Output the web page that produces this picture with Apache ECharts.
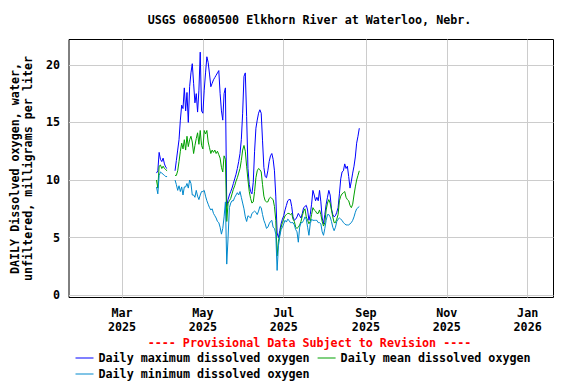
<!DOCTYPE html>
<html><head><meta charset="utf-8">
<script src="https://cdn.jsdelivr.net/npm/echarts@6/dist/echarts.min.js"></script>
<style>html,body{margin:0;padding:0;background:#fff}#c{width:576px;height:384px}</style>
</head><body><div id="c"></div>
<script>
// ---------- text ----------
const titleText = 'USGS 06800500 Elkhorn River at Waterloo, Nebr.';
const yAxisTitle = 'DAILY Dissolved oxygen, water,\nunfiltered, milligrams per liter';
const provisionalText = '---- Provisional Data Subject to Revision ----';
const seriesNames = ['Daily maximum dissolved oxygen', 'Daily mean dissolved oxygen', 'Daily minimum dissolved oxygen'];

// ---------- axes ----------
const xTickDates = ['2025-03-01', '2025-05-01', '2025-07-01', '2025-09-01', '2025-11-01', '2026-01-01'];
const xTickLabels = ['Mar\n2025', 'May\n2025', 'Jul\n2025', 'Sep\n2025', 'Nov\n2025', 'Jan\n2026'];
const xRange = ['2025-01-20T00:00:00Z', '2026-01-20T12:00:00Z'];
const yTicks = [0, 5, 10, 15, 20];
const yRange = [-0.2, 22.2];

// ---------- data (daily values, consecutive days from segment start) ----------
const seg1Start = '2025-03-27';
const seg2Start = '2025-04-10';
const gapDate = '2025-04-05';

const maxSeg1 = [10.6, 10.8, 12.4, 11.8, 11.6, 11.9, 11.4, 11.1, 11.0];
const meanSeg1 = [10.0, 9.3, 11.2, 11.3, 11.0, 11.2, 11.0, 10.9, 10.8];
const minSeg1 = [9.4, 8.8, 10.4, 10.7, 10.6, 10.5, 10.4, 10.3, 10.3];

const maxSeg2 = [
  10.8, 11.7, 12.6, 13.5, 15.2, 16.5, 16.2, 18.0, 16.0, 17.6,
  15.0, 18.1, 19.3, 20.1, 18.4, 16.7, 17.5, 15.9, 17.8, 21.1,
  16.0, 15.8, 17.8, 19.3, 20.7, 20.2, 19.2, 18.1, 18.4, 18.7,
  18.9, 19.1, 19.3, 19.5, 17.5, 16.0, 15.2, 17.5, 18.0, 7.7,
  8.3, 8.7, 9.0, 9.3, 9.7, 10.1, 10.5, 11.0, 11.6, 12.3,
  13.5, 15.8, 19.0, 19.3, 15.5, 11.0, 9.6, 9.0, 8.8, 9.8,
  12.5, 14.5, 15.2, 15.8, 16.1, 15.8, 13.4, 11.1, 10.3, 10.2,
  10.8, 11.6, 12.1, 12.3, 11.8, 10.8, 8.6, 5.4, 5.0, 5.6,
  6.2, 6.6, 6.9, 7.4, 7.8, 8.2, 8.3, 8.3, 7.7, 6.8,
  6.5, 6.6, 6.8, 7.1, 6.9, 6.7, 7.1, 7.6, 7.7, 7.8,
  7.4, 6.5, 7.0, 7.9, 9.1, 8.7, 8.2, 8.5, 8.2, 9.1,
  8.1, 6.7, 6.2, 7.0, 7.9, 8.5, 9.1, 8.7, 7.5, 7.0,
  6.8, 6.9, 7.2, 7.6, 8.8, 10.1, 10.7, 10.8, 11.4, 11.0,
  11.2, 10.3, 9.3, 9.9, 10.6, 11.2, 12.0, 13.2, 13.8, 14.5
];
const meanSeg2 = [
  10.4, 10.4, 10.8, 11.6, 12.5, 13.2, 12.7, 13.5, 12.6, 13.8,
  12.9, 13.5, 13.8, 13.3, 12.3, 13.0, 13.6, 14.1, 13.1, 14.3,
  13.0, 12.7, 14.3, 14.0, 14.3, 13.3, 12.8, 12.3, 12.6, 12.4,
  12.6, 12.3, 12.5, 12.2, 11.9, 11.1, 10.7, 12.1, 11.8, 6.4,
  8.0, 8.2, 8.4, 8.8, 9.2, 9.5, 9.9, 10.2, 10.6, 11.0,
  11.7, 12.6, 13.0, 12.5, 11.2, 10.0, 9.0, 8.4, 8.0, 8.1,
  9.0, 10.2, 10.8, 11.0, 10.9, 10.7, 9.6, 8.6, 8.2, 8.1,
  8.1, 8.4, 8.5, 8.4, 8.3, 7.7, 6.5, 3.4, 4.7, 5.3,
  5.9, 6.3, 6.6, 6.9, 7.0, 7.1, 7.1, 7.0, 7.1, 6.6,
  6.4, 5.9, 5.8, 5.9, 6.1, 6.4, 6.9, 7.3, 7.5, 6.8,
  6.5, 6.2, 6.4, 7.0, 7.6, 7.4, 7.3, 7.1, 7.1, 7.4,
  7.0, 6.4, 6.0, 6.3, 7.4, 8.0, 8.3, 8.0, 7.4, 6.8,
  6.3, 6.3, 6.6, 7.0, 8.2, 8.6, 8.8, 8.9, 9.0, 8.5,
  8.3, 8.2, 7.8, 7.6, 7.9, 8.7, 9.4, 10.0, 10.4, 10.8
];
const minSeg2 = [
  10.0, 9.6, 9.1, 9.5, 9.0, 9.4, 8.7, 9.4, 9.4, 9.7,
  9.3, 10.0, 9.7, 8.7, 8.7, 8.5, 9.1, 8.6, 8.3, 8.7,
  9.0, 9.0, 9.1, 8.6, 8.2, 7.9, 7.6, 7.4, 7.5, 7.1,
  6.9, 6.7, 6.4, 6.3, 5.9, 5.3, 5.8, 6.8, 8.1, 2.7,
  5.0, 7.6, 8.0, 8.2, 8.2, 8.5, 8.7, 8.9, 8.7, 9.0,
  8.5, 8.0, 7.5, 6.8, 6.4, 6.9, 6.8, 6.7, 7.1, 7.2,
  7.3, 7.2, 7.0, 7.3, 7.7, 7.6, 7.0, 6.5, 6.2, 5.8,
  5.9, 6.2, 6.4, 6.5, 5.9, 5.8, 5.3, 2.15, 4.3, 5.1,
  5.7, 5.9, 6.2, 6.5, 6.35, 6.6, 6.5, 6.3, 6.3, 6.3,
  6.1, 5.7, 5.5, 4.6, 5.9, 6.3, 6.3, 6.5, 6.8, 6.6,
  5.9, 5.2, 6.2, 6.6, 6.5, 6.5, 6.5, 6.5, 6.3, 6.3,
  6.2, 5.5, 5.2, 5.8, 6.5, 7.0, 7.0, 6.8, 6.4, 5.9,
  5.6, 5.9, 6.4, 6.6, 6.7, 6.6, 6.5, 6.3, 6.2, 6.1,
  6.1, 6.1, 6.2, 6.3, 6.5, 6.8, 7.2, 7.5, 7.6, 7.7
];

// ---------- styles ----------
const colors = ['#0000ff', '#00a000', '#0088cc'];
const FONT = 'DejaVu Sans Mono';
const FS = 11.7;

const DAY = 86400000;
const ts = s => Date.parse(s.length > 10 ? s : s + 'T00:00:00Z');
function build(s1, s2) {
  const out = [];
  const a = ts(seg1Start), b = ts(seg2Start);
  s1.forEach((v, i) => out.push([a + i * DAY, v]));
  out.push([ts(gapDate), '-']);
  s2.forEach((v, i) => out.push([b + i * DAY, v]));
  return out;
}
const seriesData = [build(maxSeg1, maxSeg2), build(meanSeg1, meanSeg2), build(minSeg1, minSeg2)];
const xTickTs = xTickDates.map(ts);

const chart = echarts.init(document.getElementById('c'), null, { renderer: 'svg' });
const txt = { fontFamily: FONT, fontWeight: 'bold', fontSize: FS, color: '#000' };
chart.setOption({
  animation: false,
  backgroundColor: '#fff',
  title: [
    { text: titleText, left: 309.5, top: 13, textAlign: 'center', padding: 0, textStyle: Object.assign({}, txt, { lineHeight: 14 }) },
    { text: provisionalText, left: 309.5, top: 336, textAlign: 'center', padding: 0, textStyle: Object.assign({}, txt, { color: '#ff0000', lineHeight: 14 }) }
  ],
  legend: [
    { data: [seriesNames[0], seriesNames[1]], left: 75.5, top: 352, padding: 0, itemGap: 8, itemWidth: 18, itemHeight: 1, icon: 'rect', textStyle: Object.assign({}, txt) },
    { data: [seriesNames[2]], left: 75.5, top: 368, padding: 0, itemWidth: 18, itemHeight: 1, icon: 'rect', textStyle: Object.assign({}, txt) }
  ],
  grid: { left: 64.5, top: 39.5, width: 489, height: 258, show: true, borderColor: '#000', borderWidth: 1, backgroundColor: '#fff', containLabel: false },
  xAxis: {
    type: 'value', min: ts(xRange[0]), max: ts(xRange[1]),
    axisLine: { show: false },
    axisTick: { show: false, customValues: xTickTs },
    axisLabel: { customValues: xTickTs, margin: 8, fontFamily: FONT, fontWeight: 'bold', fontSize: FS, color: '#000', lineHeight: 14,
      formatter: v => { const i = xTickTs.indexOf(v); return i >= 0 ? xTickLabels[i] : ''; } },
    splitLine: { show: true, lineStyle: { color: '#cccccc', width: 1 } }
  },
  yAxis: {
    type: 'value', min: yRange[0], max: yRange[1],
    name: yAxisTitle, nameLocation: 'middle', nameGap: 35, nameRotate: 90,
    nameTextStyle: Object.assign({}, txt, { lineHeight: 13 }),
    axisLine: { show: false },
    axisTick: { show: false, customValues: yTicks },
    axisLabel: { customValues: yTicks, margin: 9, fontFamily: FONT, fontWeight: 'bold', fontSize: FS, color: '#000' },
    splitLine: { show: true, lineStyle: { color: '#cccccc', width: 1 } }
  },
  series: seriesNames.map((n, i) => ({
    name: n, type: 'line', data: seriesData[i], showSymbol: false, symbol: 'none',
    connectNulls: false, color: colors[i], lineStyle: { color: colors[i], width: 1 }, z: 2 + i
  }))
});
</script></body></html>
